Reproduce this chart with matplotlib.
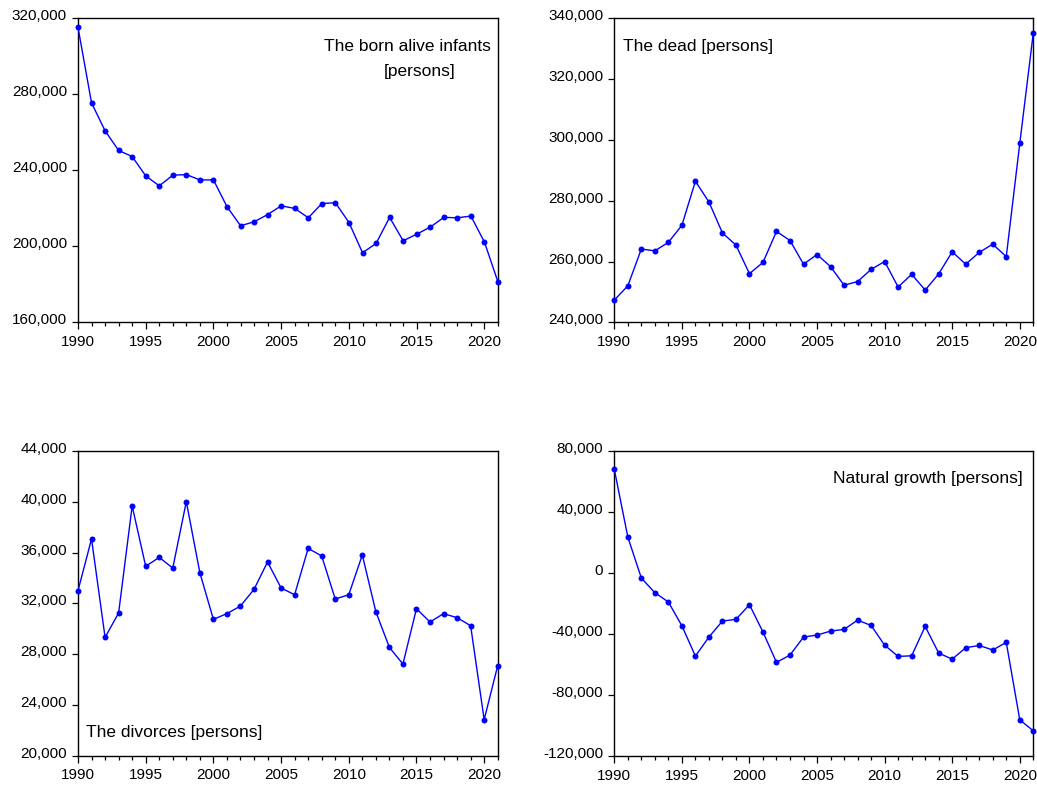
import matplotlib
matplotlib.use("Agg")
import matplotlib.pyplot as plt
import matplotlib.transforms as mtransforms
from matplotlib.ticker import FuncFormatter, MultipleLocator, FixedLocator
import numpy as np

plt.rcParams['font.family'] = ['Liberation Sans', 'DejaVu Sans']

years = list(range(1990, 2022))

born = [314900, 275200, 260500, 250200, 247000, 236800, 231600, 237200, 237500, 234700,
        234700, 220600, 210600, 212700, 216500, 221100, 219700, 214800, 222300, 222700,
        212300, 196400, 201300, 215000, 202700, 206200, 209900, 215000, 214800, 215700,
        202000, 181000]

dead = [247300, 252000, 264100, 263500, 266300, 271900, 286400, 279600, 269400, 265400,
        256000, 259700, 269900, 266900, 259100, 262300, 258300, 252200, 253400, 257400,
        260000, 251600, 255800, 250600, 255900, 263200, 259100, 263000, 265700, 261600,
        298900, 335200]

divorces = [33000, 37070, 29320, 31240, 39670, 34920, 35620, 34780, 40010, 34420,
            30740, 31190, 31790, 33100, 35260, 33210, 32680, 36330, 35730, 32340,
            32680, 35810, 31340, 28530, 27220, 31580, 30530, 31190, 30870, 30240,
            22840, 27090]

growth = [68000, 23600, -3300, -12900, -19000, -34600, -54500, -42000, -31500, -30400,
          -20800, -38700, -58600, -53800, -42000, -40700, -38100, -37000, -30900, -34400,
          -47300, -54700, -54300, -35000, -52500, -56500, -49000, -47500, -50500, -45500,
          -96300, -103500]

titles = ["The born alive infants", "The dead [persons]",
          "The divorces [persons]", "Natural growth [persons]"]
y_ranges = [(160000, 320000, 40000), (240000, 340000, 20000),
            (20000, 44000, 4000), (-120000, 80000, 40000)]
x_major = [1990, 1995, 2000, 2005, 2010, 2015, 2020]

W, H = 1037, 787
fig = plt.figure(figsize=(W / 100, H / 100), dpi=100)

def rect(l, r, t, b):
    return [l / W, 1 - b / H, (r - l) / W, (b - t) / H]

rects = [rect(78, 498, 17.7, 322), rect(614.3, 1033.3, 18.3, 322.3),
         rect(78, 497.7, 451, 755.7), rect(614.3, 1033.3, 451, 756)]

series = [born, dead, divorces, growth]

axes = []
for i in range(4):
    ax = fig.add_axes(rects[i])
    axes.append(ax)
    ax.plot(years, series[i], color='#0000FF', lw=1.0, marker='o', ms=4.3,
            markeredgewidth=0, clip_on=False, zorder=3)
    lo, hi, step = y_ranges[i]
    ax.set_ylim(lo, hi)
    ax.set_xlim(1990, 2021)
    ax.yaxis.set_major_locator(FixedLocator(list(np.arange(lo, hi + 1, step))))
    ax.yaxis.set_major_formatter(FuncFormatter(lambda v, p: f"{v:,.0f}"))
    ax.xaxis.set_major_locator(FixedLocator(x_major))
    ax.xaxis.set_minor_locator(MultipleLocator(1))
    ax.tick_params(axis='y', direction='out', length=4, width=0.9, pad=4,
                   labelsize=11, colors='black')
    ax.tick_params(axis='x', which='major', direction='out', length=5, width=0.9,
                   pad=4, labelsize=11, colors='black')
    ax.tick_params(axis='x', which='minor', direction='out', length=3, width=0.9)
    for s in ax.spines.values():
        s.set_linewidth(1.0)
        s.set_color('black')
    off = mtransforms.ScaledTranslation(0, 3.5 / 100, fig.dpi_scale_trans)
    for t in ax.yaxis.get_major_ticks():
        t.label1.set_transform(t.label1.get_transform() + off)

fs = 12.5
axes[0].text(0.983, 0.8916, titles[0], transform=axes[0].transAxes,
             ha='right', va='baseline', fontsize=fs)
axes[0].text(0.814, 0.808, "[persons]", transform=axes[0].transAxes,
             ha='center', va='baseline', fontsize=fs)
axes[1].text(0.020, 0.892, titles[1], transform=axes[1].transAxes,
             ha='left', va='baseline', fontsize=fs)
axes[2].text(0.019, 0.062, titles[2], transform=axes[2].transAxes,
             ha='left', va='baseline', fontsize=fs)
axes[3].text(0.976, 0.894, titles[3], transform=axes[3].transAxes,
             ha='right', va='baseline', fontsize=fs)

fig.savefig("out.png", dpi=100)
